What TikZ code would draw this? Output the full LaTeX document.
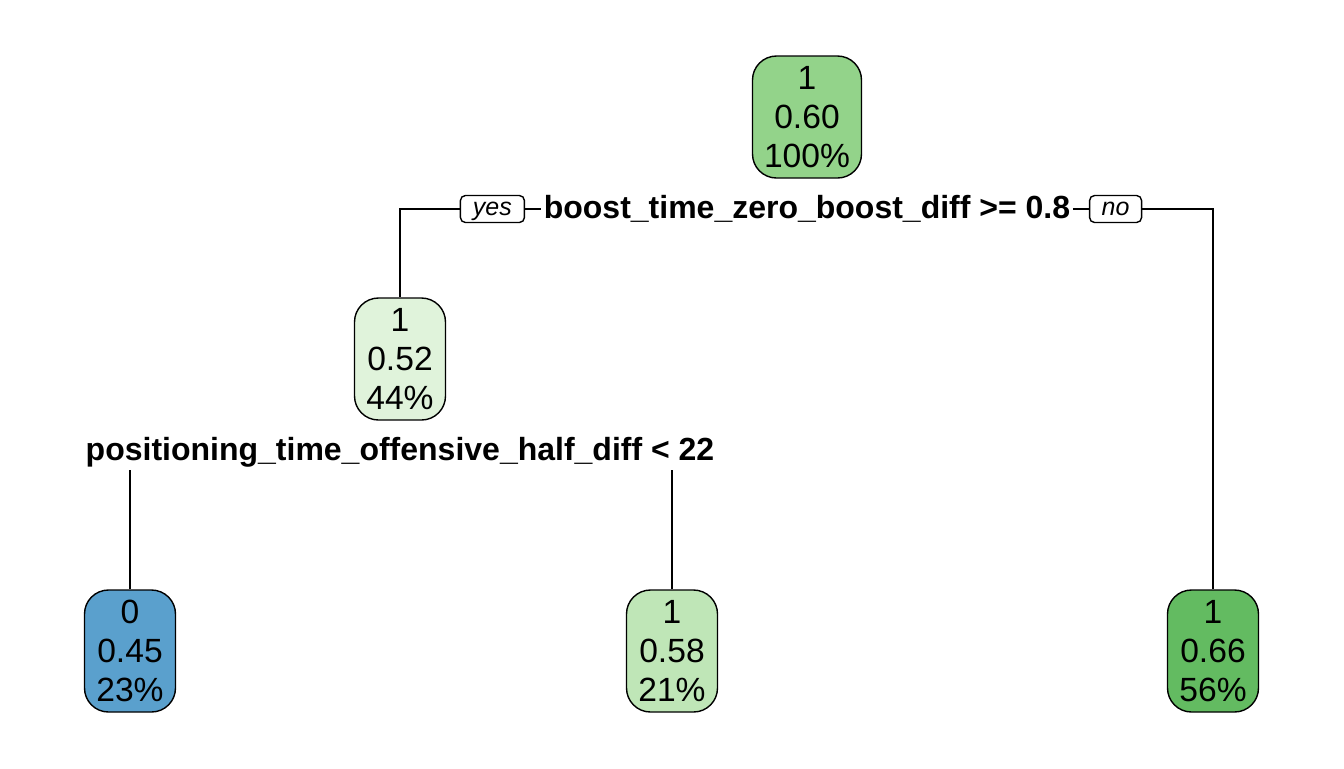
\documentclass[tikz,border=0pt]{standalone}
\usepackage{fontspec}
\setmainfont{Liberation Sans}
\usepackage{tikz}
\usetikzlibrary{positioning}
\definecolor{rootfill}{HTML}{93D38A}
\definecolor{paleleaf}{HTML}{E0F3DB}
\definecolor{blueleaf}{HTML}{5AA0CD}
\definecolor{lightleaf}{HTML}{BFE6B7}
\definecolor{darkleaf}{HTML}{63BB61}

\begin{document}
\begin{tikzpicture}[x=0.5pt,y=-0.5pt,line width=0.7pt,
  box/.style={draw,rounded corners=12pt,align=center,inner sep=1pt,
    font=\fontsize{16.8}{19.5}\selectfont,minimum width=45.5pt,minimum height=61pt},
  split/.style={font=\bfseries\fontsize{16}{18}\selectfont,fill=white,inner sep=1pt},
  tag/.style={draw,rounded corners=2.5pt,font=\itshape\fontsize{12.5}{14}\selectfont,
    fill=white,inner sep=0pt,text height=8.5pt,text depth=2.5pt,
    minimum height=13.5pt,minimum width=32pt}]
  \useasboundingbox (0,0) rectangle (1344,768);
  % root and first split
  \node[box,fill=rootfill,minimum width=54.5pt] (root) at (807,117) {1\\0.60\\100\%};
  \node[split] (split1) at (807,209) {boost\_time\_zero\_boost\_diff >= 0.8};
  \node[tag,left=8pt of split1] (yes) {yes};
  \node[tag,right=8pt of split1,minimum width=26pt] (no) {no};
  \draw (yes) -- (split1) -- (no);
  % inner node and second split
  \node[box,fill=paleleaf] (inner) at (400,359) {1\\0.52\\44\%};
  \node[split] (split2) at (400,452) {positioning\_time\_offensive\_half\_diff < 22};
  % leaves
  \node[box,fill=blueleaf] (leafa) at (130,651) {0\\0.45\\23\%};
  \node[box,fill=lightleaf] (leafb) at (672,651) {1\\0.58\\21\%};
  \node[box,fill=darkleaf] (leafc) at (1213,651) {1\\0.66\\56\%};
  % connectors
  \draw (yes.west) -| (inner.north);
  \draw (no.east) -| (leafc.north);
  \draw (leafa.north) -- (leafa.north |- split2.south);
  \draw (leafb.north) -- (leafb.north |- split2.south);
\end{tikzpicture}
\end{document}
